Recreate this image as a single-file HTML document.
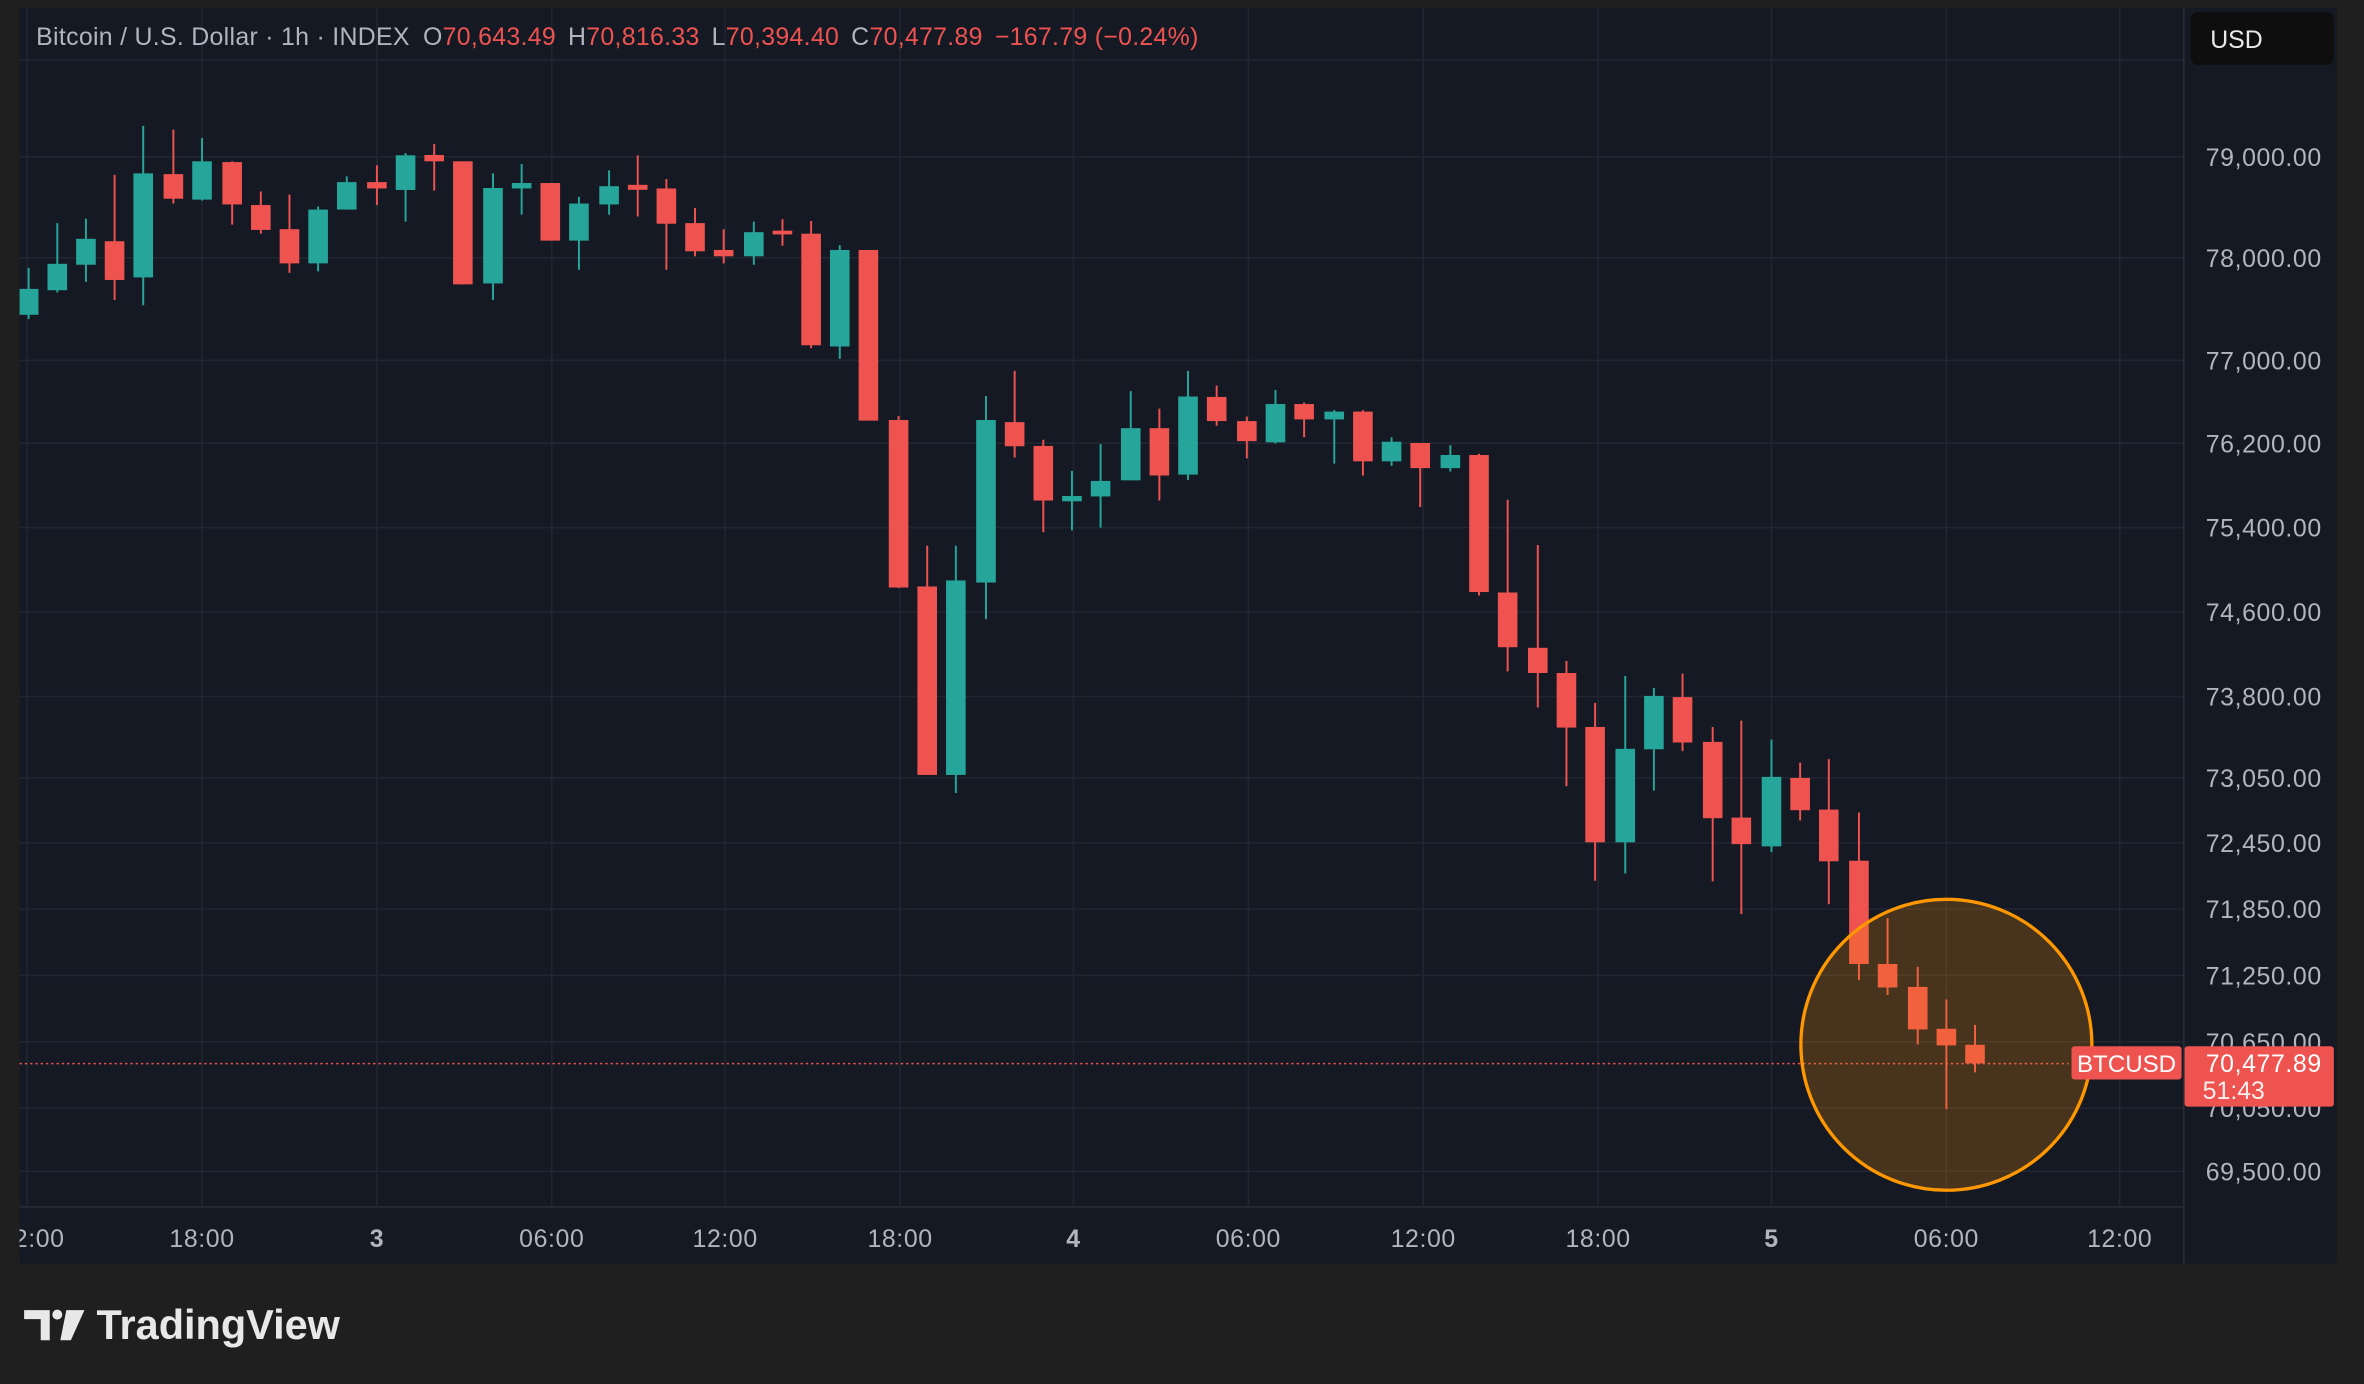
<!DOCTYPE html>
<html><head><meta charset="utf-8"><style>
html,body{margin:0;padding:0;background:#1f1f1f;}
svg{display:block;}
text{font-family:"Liberation Sans",sans-serif;}
.g line{stroke:#26a69a;stroke-width:1.3}
.g rect{fill:#26a69a}
.r line{stroke:#ef5350;stroke-width:1.3}
.r rect{fill:#ef5350}
.ax{fill:#b2b5be;font-size:16.5px;letter-spacing:0.4px}
</style></head><body>
<svg width="2364" height="1384" viewBox="0 0 1568 918" preserveAspectRatio="none" xmlns="http://www.w3.org/2000/svg">
<rect x="0" y="0" width="1568" height="918" fill="#1f1f1f"/>
<rect x="13" y="5" width="1537" height="833" fill="#151924"/>
<defs><clipPath id="c"><rect x="13" y="5" width="1435" height="795"/></clipPath></defs>
<g stroke="#222633" stroke-width="1">
<line x1="13" x2="1448" y1="40" y2="40"/>
<line x1="13" x2="1448" y1="104" y2="104"/>
<line x1="13" x2="1448" y1="171" y2="171"/>
<line x1="13" x2="1448" y1="239" y2="239"/>
<line x1="13" x2="1448" y1="294" y2="294"/>
<line x1="13" x2="1448" y1="350" y2="350"/>
<line x1="13" x2="1448" y1="406" y2="406"/>
<line x1="13" x2="1448" y1="462" y2="462"/>
<line x1="13" x2="1448" y1="516" y2="516"/>
<line x1="13" x2="1448" y1="559" y2="559"/>
<line x1="13" x2="1448" y1="603" y2="603"/>
<line x1="13" x2="1448" y1="647" y2="647"/>
<line x1="13" x2="1448" y1="691" y2="691"/>
<line x1="13" x2="1448" y1="735" y2="735"/>
<line x1="13" x2="1448" y1="777" y2="777"/>
<line x1="18" x2="18" y1="5" y2="800"/>
<line x1="134" x2="134" y1="5" y2="800"/>
<line x1="250" x2="250" y1="5" y2="800"/>
<line x1="366" x2="366" y1="5" y2="800"/>
<line x1="481" x2="481" y1="5" y2="800"/>
<line x1="597" x2="597" y1="5" y2="800"/>
<line x1="712" x2="712" y1="5" y2="800"/>
<line x1="828" x2="828" y1="5" y2="800"/>
<line x1="944" x2="944" y1="5" y2="800"/>
<line x1="1060" x2="1060" y1="5" y2="800"/>
<line x1="1175" x2="1175" y1="5" y2="800"/>
<line x1="1291" x2="1291" y1="5" y2="800"/>
<line x1="1406" x2="1406" y1="5" y2="800"/>
</g>
<line x1="13" x2="1448" y1="800.5" y2="800.5" stroke="#2a2e39"/>
<line x1="1448.5" x2="1448.5" y1="5" y2="838" stroke="#2a2e39"/>
<g clip-path="url(#c)">
<g class="g"><line x1="19" x2="19" y1="177.7" y2="211.7"/><rect x="12.5" y="191.6" width="13" height="17.2"/></g>
<g class="g"><line x1="38" x2="38" y1="148" y2="194"/><rect x="31.5" y="175" width="13" height="17.5"/></g>
<g class="g"><line x1="57" x2="57" y1="145" y2="187"/><rect x="50.5" y="158.4" width="13" height="17.2"/></g>
<g class="r"><line x1="76" x2="76" y1="116" y2="199"/><rect x="69.5" y="160" width="13" height="25.7"/></g>
<g class="g"><line x1="95" x2="95" y1="83.5" y2="202.5"/><rect x="88.5" y="115" width="13" height="69"/></g>
<g class="r"><line x1="115" x2="115" y1="86" y2="135"/><rect x="108.5" y="115.5" width="13" height="16.3"/></g>
<g class="g"><line x1="134" x2="134" y1="91.5" y2="133"/><rect x="127.5" y="107" width="13" height="25.4"/></g>
<g class="r"><line x1="154" x2="154" y1="107" y2="149"/><rect x="147.5" y="107.5" width="13" height="28.1"/></g>
<g class="r"><line x1="173" x2="173" y1="127" y2="155"/><rect x="166.5" y="136" width="13" height="16.5"/></g>
<g class="r"><line x1="192" x2="192" y1="129" y2="181"/><rect x="185.5" y="152" width="13" height="22.7"/></g>
<g class="g"><line x1="211" x2="211" y1="137" y2="180"/><rect x="204.5" y="139" width="13" height="35.7"/></g>
<g class="g"><line x1="230" x2="230" y1="117" y2="139"/><rect x="223.5" y="120.8" width="13" height="18.2"/></g>
<g class="r"><line x1="250" x2="250" y1="109.6" y2="136"/><rect x="243.5" y="120.8" width="13" height="4.2"/></g>
<g class="g"><line x1="269" x2="269" y1="101.6" y2="147"/><rect x="262.5" y="103" width="13" height="23"/></g>
<g class="r"><line x1="288" x2="288" y1="95.6" y2="126.4"/><rect x="281.5" y="102.8" width="13" height="4.2"/></g>
<g class="r"><line x1="307" x2="307" y1="107" y2="188.6"/><rect x="300.5" y="107" width="13" height="81.6"/></g>
<g class="g"><line x1="327" x2="327" y1="115" y2="199"/><rect x="320.5" y="124.7" width="13" height="63.3"/></g>
<g class="g"><line x1="346" x2="346" y1="108.7" y2="142.4"/><rect x="339.5" y="121.4" width="13" height="3.6"/></g>
<g class="r"><line x1="365" x2="365" y1="121.4" y2="159.6"/><rect x="358.5" y="121.4" width="13" height="38.2"/></g>
<g class="g"><line x1="384" x2="384" y1="130.6" y2="178.9"/><rect x="377.5" y="135" width="13" height="24.6"/></g>
<g class="g"><line x1="404" x2="404" y1="113" y2="142.4"/><rect x="397.5" y="123.5" width="13" height="12.1"/></g>
<g class="r"><line x1="423" x2="423" y1="103" y2="143.6"/><rect x="416.5" y="122.6" width="13" height="3.3"/></g>
<g class="r"><line x1="442" x2="442" y1="118.7" y2="178.9"/><rect x="435.5" y="125" width="13" height="23.4"/></g>
<g class="r"><line x1="461" x2="461" y1="138" y2="170"/><rect x="454.5" y="148" width="13" height="18.7"/></g>
<g class="r"><line x1="480" x2="480" y1="152" y2="174.7"/><rect x="473.5" y="165.8" width="13" height="4.2"/></g>
<g class="g"><line x1="500" x2="500" y1="147" y2="175.6"/><rect x="493.5" y="154" width="13" height="16"/></g>
<g class="r"><line x1="519" x2="519" y1="145.4" y2="163"/><rect x="512.5" y="153" width="13" height="2.5"/></g>
<g class="r"><line x1="538" x2="538" y1="146.6" y2="231"/><rect x="531.5" y="155" width="13" height="74"/></g>
<g class="g"><line x1="557" x2="557" y1="162.6" y2="238"/><rect x="550.5" y="165.8" width="13" height="64"/></g>
<g class="r"><line x1="576" x2="576" y1="165.8" y2="279"/><rect x="569.5" y="165.8" width="13" height="113.2"/></g>
<g class="r"><line x1="596" x2="596" y1="276" y2="390"/><rect x="589.5" y="278.6" width="13" height="111.1"/></g>
<g class="r"><line x1="615" x2="615" y1="362" y2="514"/><rect x="608.5" y="389" width="13" height="125"/></g>
<g class="g"><line x1="634" x2="634" y1="362" y2="526"/><rect x="627.5" y="385" width="13" height="129"/></g>
<g class="g"><line x1="654" x2="654" y1="262.7" y2="410.7"/><rect x="647.5" y="278.6" width="13" height="107.8"/></g>
<g class="r"><line x1="673" x2="673" y1="246" y2="303.5"/><rect x="666.5" y="280" width="13" height="16"/></g>
<g class="r"><line x1="692" x2="692" y1="291.7" y2="353"/><rect x="685.5" y="295.8" width="13" height="36.2"/></g>
<g class="g"><line x1="711" x2="711" y1="312.4" y2="351.8"/><rect x="704.5" y="329" width="13" height="3.5"/></g>
<g class="g"><line x1="730" x2="730" y1="294.6" y2="350"/><rect x="723.5" y="319" width="13" height="10.3"/></g>
<g class="g"><line x1="750" x2="750" y1="259.4" y2="318.6"/><rect x="743.5" y="284" width="13" height="34.6"/></g>
<g class="r"><line x1="769" x2="769" y1="271" y2="332"/><rect x="762.5" y="284" width="13" height="31.4"/></g>
<g class="g"><line x1="788" x2="788" y1="246" y2="318.3"/><rect x="781.5" y="263" width="13" height="51.8"/></g>
<g class="r"><line x1="807" x2="807" y1="255.7" y2="282.4"/><rect x="800.5" y="263.3" width="13" height="16"/></g>
<g class="r"><line x1="827" x2="827" y1="276.3" y2="304"/><rect x="820.5" y="279.3" width="13" height="13.3"/></g>
<g class="g"><line x1="846" x2="846" y1="258.7" y2="294.1"/><rect x="839.5" y="268" width="13" height="25.4"/></g>
<g class="r"><line x1="865" x2="865" y1="267" y2="290"/><rect x="858.5" y="268" width="13" height="10.2"/></g>
<g class="g"><line x1="885" x2="885" y1="272" y2="307.5"/><rect x="878.5" y="273" width="13" height="5.2"/></g>
<g class="r"><line x1="904" x2="904" y1="272" y2="315.5"/><rect x="897.5" y="273" width="13" height="33"/></g>
<g class="g"><line x1="923" x2="923" y1="290" y2="309"/><rect x="916.5" y="293" width="13" height="13"/></g>
<g class="r"><line x1="942" x2="942" y1="293.8" y2="336.4"/><rect x="935.5" y="293.8" width="13" height="16.7"/></g>
<g class="g"><line x1="962" x2="962" y1="295.3" y2="312.8"/><rect x="955.5" y="301.8" width="13" height="8.7"/></g>
<g class="r"><line x1="981" x2="981" y1="301" y2="395"/><rect x="974.5" y="301.8" width="13" height="90.9"/></g>
<g class="r"><line x1="1000" x2="1000" y1="331.5" y2="445.3"/><rect x="993.5" y="393" width="13" height="36.3"/></g>
<g class="r"><line x1="1020" x2="1020" y1="361.5" y2="469.3"/><rect x="1013.5" y="429.7" width="13" height="16.7"/></g>
<g class="r"><line x1="1039" x2="1039" y1="438.4" y2="521.4"/><rect x="1032.5" y="446.4" width="13" height="36.2"/></g>
<g class="r"><line x1="1058" x2="1058" y1="466.2" y2="584.2"/><rect x="1051.5" y="482.2" width="13" height="76.5"/></g>
<g class="g"><line x1="1078" x2="1078" y1="448.3" y2="579.3"/><rect x="1071.5" y="496.7" width="13" height="62"/></g>
<g class="g"><line x1="1097" x2="1097" y1="456.3" y2="524.4"/><rect x="1090.5" y="461.6" width="13" height="35.4"/></g>
<g class="r"><line x1="1116" x2="1116" y1="446.8" y2="498.2"/><rect x="1109.5" y="462.4" width="13" height="30.1"/></g>
<g class="r"><line x1="1136" x2="1136" y1="482.2" y2="584.6"/><rect x="1129.5" y="492.1" width="13" height="50.6"/></g>
<g class="r"><line x1="1155" x2="1155" y1="478" y2="606.3"/><rect x="1148.5" y="542.3" width="13" height="17.6"/></g>
<g class="g"><line x1="1175" x2="1175" y1="490.6" y2="565.2"/><rect x="1168.5" y="515.3" width="13" height="46.1"/></g>
<g class="r"><line x1="1194" x2="1194" y1="505.8" y2="544.2"/><rect x="1187.5" y="516" width="13" height="21.4"/></g>
<g class="r"><line x1="1213" x2="1213" y1="503.5" y2="599.8"/><rect x="1206.5" y="537" width="13" height="34.3"/></g>
<g class="r"><line x1="1233" x2="1233" y1="538.9" y2="650"/><rect x="1226.5" y="570.9" width="13" height="68.5"/></g>
<g class="r"><line x1="1252" x2="1252" y1="609" y2="660"/><rect x="1245.5" y="639.4" width="13" height="15.6"/></g>
<g class="r"><line x1="1272" x2="1272" y1="641.3" y2="692.7"/><rect x="1265.5" y="654.6" width="13" height="28.2"/></g>
<g class="r"><line x1="1291" x2="1291" y1="663" y2="735.7"/><rect x="1284.5" y="682.4" width="13" height="11"/></g>
<g class="r"><line x1="1310" x2="1310" y1="679.8" y2="711.3"/><rect x="1303.5" y="693" width="13" height="12.3"/></g>
</g>
<line x1="13" x2="1372" y1="705.5" y2="705.5" stroke="#ef5350" stroke-width="1" stroke-dasharray="1.5,2"/>
<circle cx="1291" cy="693" r="96.5" fill="rgba(255,152,0,0.22)" stroke="#ff9800" stroke-width="2.2"/>
<g class="ax">
<text x="1540" y="110" text-anchor="end">79,000.00</text>
<text x="1540" y="177" text-anchor="end">78,000.00</text>
<text x="1540" y="245" text-anchor="end">77,000.00</text>
<text x="1540" y="300" text-anchor="end">76,200.00</text>
<text x="1540" y="356" text-anchor="end">75,400.00</text>
<text x="1540" y="412" text-anchor="end">74,600.00</text>
<text x="1540" y="468" text-anchor="end">73,800.00</text>
<text x="1540" y="522" text-anchor="end">73,050.00</text>
<text x="1540" y="565" text-anchor="end">72,450.00</text>
<text x="1540" y="609" text-anchor="end">71,850.00</text>
<text x="1540" y="653" text-anchor="end">71,250.00</text>
<text x="1540" y="697" text-anchor="end">70,650.00</text>
<text x="1540" y="741" text-anchor="end">70,050.00</text>
<text x="1540" y="783" text-anchor="end">69,500.00</text>
<text x="26" y="827" text-anchor="middle">2:00</text>
<text x="134" y="827" text-anchor="middle">18:00</text>
<text x="250" y="827" text-anchor="middle" font-weight="bold">3</text>
<text x="366" y="827" text-anchor="middle">06:00</text>
<text x="481" y="827" text-anchor="middle">12:00</text>
<text x="597" y="827" text-anchor="middle">18:00</text>
<text x="712" y="827" text-anchor="middle" font-weight="bold">4</text>
<text x="828" y="827" text-anchor="middle">06:00</text>
<text x="944" y="827" text-anchor="middle">12:00</text>
<text x="1060" y="827" text-anchor="middle">18:00</text>
<text x="1175" y="827" text-anchor="middle" font-weight="bold">5</text>
<text x="1291" y="827" text-anchor="middle">06:00</text>
<text x="1406" y="827" text-anchor="middle">12:00</text>
</g>
<rect x="0" y="800" width="13" height="40" fill="#1f1f1f"/>
<rect x="1374" y="694" width="73" height="22" rx="2" fill="#ef5350"/>
<text x="1410.5" y="711" text-anchor="middle" fill="#fff" font-size="16">BTCUSD</text>
<rect x="1449" y="694" width="99" height="40" rx="2" fill="#ef5350"/>
<text x="1540" y="711" text-anchor="end" fill="#fff" font-size="16.5" letter-spacing="0.4">70,477.89</text>
<text x="1461" y="729" fill="#fff" font-size="16.5" opacity="0.9">51:43</text>
<rect x="1453" y="8" width="95" height="35" rx="5" fill="#0e0e0e"/>
<text x="1466" y="32" fill="#e8e8e8" font-size="16.5">USD</text>
<text x="24" y="30" font-size="16.5" letter-spacing="0.2" fill="#b2b5be">Bitcoin / U.S. Dollar · 1h · INDEX <tspan dx="4">O</tspan><tspan fill="#ef5350">70,643.49</tspan><tspan dx="8">H</tspan><tspan fill="#ef5350">70,816.33</tspan><tspan dx="8">L</tspan><tspan fill="#ef5350">70,394.40</tspan><tspan dx="8">C</tspan><tspan fill="#ef5350">70,477.89</tspan><tspan dx="8" fill="#ef5350">−167.79 (−0.24%)</tspan></text>
<g fill="#e8e8e8">
<path d="M16 869 H33 V889 H27 V875 H16 Z"/>
<circle cx="38" cy="872" r="3.3"/>
<path d="M44 869 H56 L47 889 H40 Z"/>
</g>
<text x="64" y="888" fill="#e8e8e8" font-size="27.5" font-weight="bold">TradingView</text>
</svg>
</body></html>
